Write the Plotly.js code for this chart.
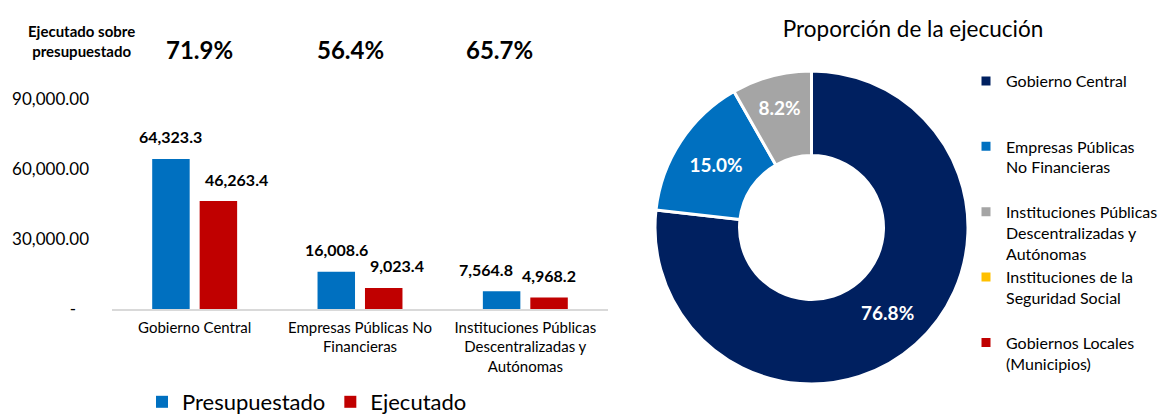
<!DOCTYPE html>
<html><head><meta charset="utf-8">
<script src="https://cdn.plot.ly/plotly-3.0.1.min.js"></script>
<style>html,body{margin:0;padding:0;background:#fff}#chart{width:1169px;height:414px}</style>
</head><body><div id="chart"></div>
<script>
// ---- data ----
const categories = ["Gobierno Central", "Empresas Públicas No<br>Financieras", "Instituciones Públicas<br>Descentralizadas y<br>Autónomas"];
const presupuestado = [64323.3, 16008.6, 7564.8];
const ejecutado = [46263.4, 9023.4, 4968.2];
const yTickVals = [0, 30000, 60000, 90000];
const yTickText = ["-\u00a0\u00a0\u00a0", "30,000.00", "60,000.00", "90,000.00"];
const pieLabels = ["Gobierno Central", "Empresas Públicas<br>No Financieras", "Instituciones Públicas<br>Descentralizadas y<br>Autónomas", "Instituciones de la<br>Seguridad Social", "Gobiernos Locales<br>(Municipios)"];
const pieValues = [46263.4, 9023.4, 4968.2, 0, 0];
const pieColors = ["#002060", "#0070C0", "#A5A5A5", "#FFC000", "#C00000"];

// ---- style ----
const FONT = "Lato, 'Open Sans', sans-serif";
const W = 1169, H = 414;
const bargap = 0.426;
const groupOff = (1 - bargap) / 4;
const labelShiftPres = [0, 0, -16];
const labelShiftEjec = [18, 13, 0];
const pctShift = [5, -10, -26];

const fmt = v => v.toLocaleString('en-US', {minimumFractionDigits: 1, maximumFractionDigits: 1});

// pad legend labels to 3 lines so entries are evenly spaced
const pieLegend = pieLabels.map(l => {
  let n = l.split('<br>').length, s = l;
  while (n < 3) { s += '<br>\u00a0'; n++; }
  return s;
});

const traces = [
  {type: 'bar', name: 'Presupuestado', x: categories, y: presupuestado, marker: {color: '#0070C0'}, hoverinfo: 'y', legend: 'legend'},
  {type: 'bar', name: 'Ejecutado', x: categories, y: ejecutado, marker: {color: '#C00000'}, hoverinfo: 'y', legend: 'legend'},
  {type: 'pie', labels: pieLegend, values: pieValues, hole: 0.46, sort: false, direction: 'clockwise', rotation: 0,
   marker: {colors: pieColors, line: {color: '#ffffff', width: 3}},
   texttemplate: '%{percent:.1%}', textposition: ['inside', 'inside', 'inside', 'none', 'none'],
   insidetextorientation: 'horizontal',
   textfont: {color: '#ffffff', size: 19, family: FONT, weight: 'bold'},
   domain: {x: [655 / W, 968 / W], y: [30 / H, 343 / H]},
   legend: 'legend2', hoverinfo: 'label+percent'}
];

const annotations = [];
categories.forEach((c, i) => {
  annotations.push({x: i - groupOff, y: presupuestado[i], xref: 'x', yref: 'y', text: fmt(presupuestado[i]),
    showarrow: false, xshift: labelShiftPres[i], yshift: 22, yanchor: 'middle',
    font: {family: FONT, size: 16, color: '#000', weight: 'bold'}});
  annotations.push({x: i + groupOff, y: ejecutado[i], xref: 'x', yref: 'y', text: fmt(ejecutado[i]),
    showarrow: false, xshift: labelShiftEjec[i], yshift: 22, yanchor: 'middle',
    font: {family: FONT, size: 16, color: '#000', weight: 'bold'}});
  annotations.push({x: i, y: 1 - 50 / H, xref: 'x', yref: 'paper', text: (ejecutado[i] / presupuestado[i] * 100).toFixed(1) + '%',
    showarrow: false, xshift: pctShift[i], yanchor: 'middle',
    font: {family: FONT, size: 24, color: '#000', weight: 'bold'}});
});
annotations.push({x: 81 / W, y: 1 - 41 / H, xref: 'paper', yref: 'paper', text: 'Ejecutado sobre<br>presupuestado',
  showarrow: false, yanchor: 'middle', xanchor: 'center', font: {family: FONT, size: 15, color: '#000', weight: 'bold'}});

const layout = {
  width: W, height: H,
  margin: {l: 0, r: 0, t: 0, b: 0, autoexpand: false},
  paper_bgcolor: '#ffffff', plot_bgcolor: '#ffffff',
  font: {family: FONT, color: '#000'},
  barmode: 'group', bargap: bargap, bargroupgap: 0.21,
  title: {text: 'Proporción de la ejecución', x: 913 / W, xanchor: 'center', y: 1 - 29 / H, yanchor: 'middle',
    font: {family: FONT, size: 22.5, color: '#000'}},
  xaxis: {domain: [112 / W, 608 / W], showline: true, linecolor: '#d9d9d9', linewidth: 1.5, ticks: '', ticklabelstandoff: 4,
    tickfont: {family: FONT, size: 15, color: '#000'}, showgrid: false, zeroline: false, fixedrange: true, automargin: false},
  yaxis: {domain: [105 / H, 315 / H], range: [0, 90000], tickmode: 'array', tickvals: yTickVals, ticktext: yTickText,
    showgrid: false, zeroline: false, showline: false, ticks: '', ticklabelstandoff: 22, automargin: false,
    tickfont: {family: FONT, size: 17, color: '#000'}, fixedrange: true},
  legend: {orientation: 'h', x: 142 / W, xanchor: 'left', y: 1 - 402 / H, yanchor: 'middle',
    font: {family: FONT, size: 22, color: '#000'}, bgcolor: 'rgba(0,0,0,0)', traceorder: 'normal'},
  legend2: {x: 966 / W, xanchor: 'left', y: 1 - 64 / H, yanchor: 'top', valign: 'top',
    font: {family: FONT, size: 16, color: '#000'}, bgcolor: 'rgba(0,0,0,0)', traceorder: 'normal'},
  annotations: annotations,
  showlegend: true
};

Plotly.newPlot('chart', traces, layout, {displayModeBar: false});
</script>
</body></html>
